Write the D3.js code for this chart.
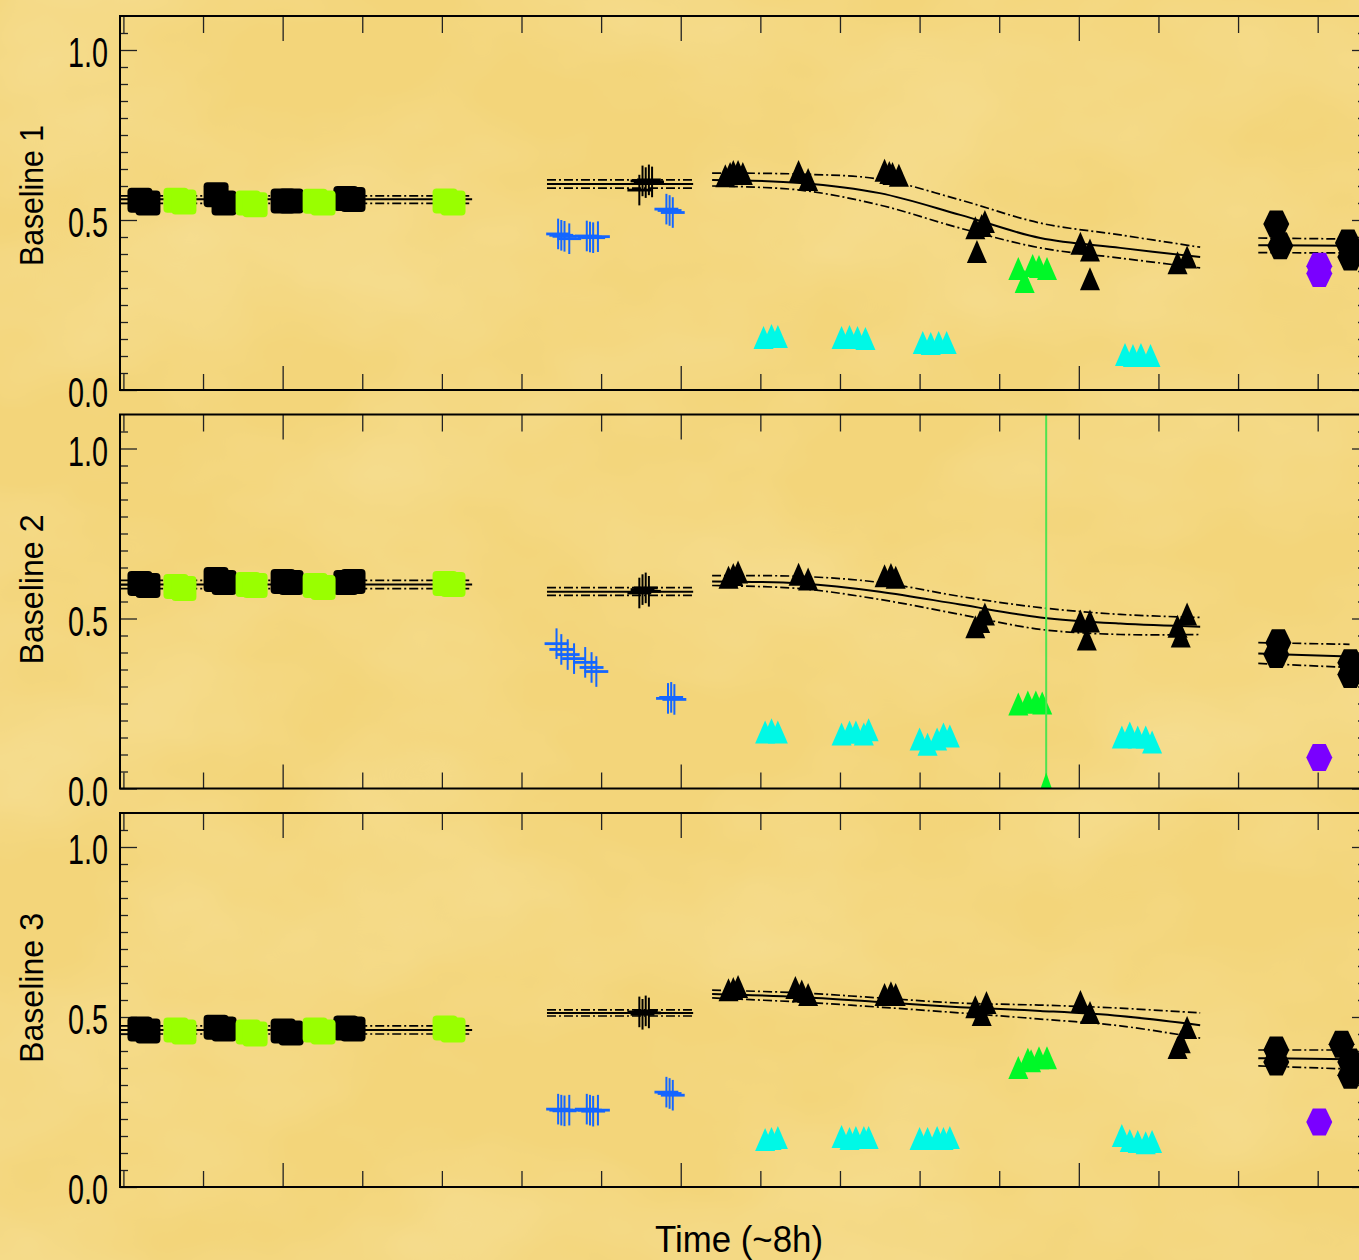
<!DOCTYPE html>
<html>
<head>
<meta charset="utf-8">
<script src="https://cdn.jsdelivr.net/npm/d3@7"></script>
<style>
  html, body { margin: 0; padding: 0; background: #f3d57a; }
  svg { display: block; }
</style>
</head>
<body>
<svg id="chart" width="1359" height="1260"></svg>
<script>
// ---------------- data (time in hours, values are normalised amplitudes) ----------------
const panelLabels = ["Baseline 1", "Baseline 2", "Baseline 3"];
const xAxisTitle = "Time (~8h)";
const xMinorTicks = [0, 0.5, 1.5, 2, 2.5, 3, 4, 4.5, 5, 5.5, 6.5, 7, 7.5];
const xMajorTicks = [1, 3.5, 6];
const yMajorTicks = [0, 0.5, 1.0];
const yTickLabels = ["0.0", "0.5", "1.0"];
const yMinorTicks = [0.05, 0.1, 0.15, 0.2, 0.25, 0.3, 0.35, 0.4, 0.45,
                     0.55, 0.6, 0.65, 0.7, 0.75, 0.8, 0.85, 0.9, 0.95, 1.05];

// first calibrator block: black and yellow-green squares
const squaresBlack = [
  [[0.104,0.558],[0.154,0.550],[0.582,0.574],[0.632,0.550],[1.003,0.556],[1.053,0.556],[1.397,0.563],[1.442,0.560]],
  [[0.104,0.603],[0.154,0.597],[0.582,0.615],[0.632,0.606],[1.003,0.609],[1.053,0.606],[1.397,0.606],[1.442,0.609]],
  [[0.104,0.465],[0.154,0.459],[0.582,0.470],[0.632,0.465],[1.003,0.459],[1.053,0.453],[1.397,0.468],[1.442,0.465]]
];
const squaresGreen = [
  [[0.330,0.558],[0.380,0.553],[0.783,0.550],[0.827,0.545],[1.204,0.555],[1.254,0.550],[2.020,0.556],[2.070,0.550]],
  [[0.330,0.594],[0.380,0.588],[0.783,0.600],[0.827,0.597],[1.204,0.597],[1.254,0.591],[2.020,0.603],[2.070,0.600]],
  [[0.330,0.462],[0.380,0.456],[0.783,0.456],[0.827,0.450],[1.204,0.462],[1.254,0.456],[2.020,0.468],[2.070,0.462]]
];
const fitAHours = [-0.02, 2.19];
const fitA = [ // [upper, transfer, lower]
  [0.571, 0.561, 0.549],
  [0.612, 0.600, 0.588],
  [0.474, 0.462, 0.450]
];

// second block: crosses
const crossesBlack = [
  [[3.24,0.588],[3.26,0.615],[3.28,0.610],[3.30,0.618],[3.32,0.612]],
  [[3.24,0.575],[3.26,0.585],[3.28,0.590],[3.30,0.580]],
  [[3.24,0.515],[3.26,0.508],[3.28,0.518],[3.30,0.512]]
];
const crossesBlue = [
  [[2.73,0.459],[2.75,0.455],[2.77,0.452],[2.80,0.445],[2.91,0.453],[2.93,0.450],[2.95,0.448],[2.98,0.451],[3.41,0.532],[3.43,0.528],[3.45,0.522]],
  [[2.72,0.426],[2.75,0.409],[2.79,0.394],[2.83,0.382],[2.90,0.371],[2.94,0.356],[2.97,0.344],[3.42,0.265],[3.44,0.268],[3.46,0.262]],
  [[2.73,0.229],[2.75,0.226],[2.77,0.224],[2.80,0.226],[2.91,0.229],[2.93,0.226],[2.95,0.223],[2.98,0.226],[3.41,0.279],[3.43,0.275],[3.45,0.270]]
];
const crossErrV = 0.045, crossErrH = 0.075;
const fitBHours = [2.66, 3.578];
const fitB = [
  [0.618, 0.606, 0.594],
  [0.591, 0.579, 0.568],
  [0.521, 0.512, 0.503]
];

// third block: triangles
const trianglesBlack = [
  [[3.78,0.629],[3.81,0.635],[3.83,0.641],[3.86,0.641],[3.89,0.635],[4.24,0.641],[4.30,0.618],[4.78,0.645],[4.81,0.638],[4.83,0.635],[4.87,0.630],
   [5.35,0.476],[5.39,0.482],[5.41,0.494],[5.36,0.406],[6.01,0.430],[6.07,0.410],[6.07,0.326],[6.62,0.373],[6.68,0.390]],
  [[3.80,0.620],[3.86,0.635],[3.83,0.628],[4.24,0.629],[4.30,0.615],[4.78,0.624],[4.85,0.620],[4.82,0.628],
   [5.35,0.474],[5.41,0.512],[5.38,0.490],[6.01,0.491],[6.07,0.491],[6.05,0.438],[6.62,0.476],[6.68,0.512],[6.64,0.447]],
  [[3.80,0.579],[3.86,0.588],[3.83,0.582],[4.22,0.585],[4.30,0.565],[4.26,0.575],[4.78,0.565],[4.85,0.565],[4.82,0.570],
   [5.35,0.529],[5.42,0.541],[5.39,0.506],[6.01,0.544],[6.07,0.512],[6.62,0.409],[6.68,0.468],[6.64,0.426]]
];
const trianglesCyan = [
  [[4.02,0.153],[4.07,0.159],[4.11,0.156],[4.51,0.153],[4.56,0.156],[4.61,0.153],[4.66,0.150],
   [5.02,0.138],[5.07,0.135],[5.12,0.138],[5.17,0.138],[6.29,0.103],[6.34,0.100],[6.39,0.103],[6.45,0.100]],
  [[4.03,0.165],[4.07,0.171],[4.11,0.165],[4.51,0.159],[4.56,0.165],[4.60,0.165],[4.65,0.159],[4.68,0.171],
   [5.00,0.144],[5.05,0.129],[5.11,0.144],[5.15,0.159],[5.19,0.153],[6.27,0.150],[6.32,0.162],[6.37,0.150],[6.42,0.150],[6.46,0.135]],
  [[4.03,0.138],[4.07,0.141],[4.11,0.144],[4.51,0.147],[4.56,0.141],[4.60,0.144],[4.65,0.144],[4.68,0.144],
   [5.00,0.141],[5.05,0.141],[5.11,0.144],[5.15,0.141],[5.19,0.144],[6.27,0.150],[6.32,0.135],[6.37,0.132],[6.42,0.129],[6.46,0.132]]
];
const trianglesGreen = [
  [[5.62,0.356],[5.71,0.365],[5.75,0.362],[5.80,0.356],[5.66,0.318]],
  [[5.62,0.247],[5.68,0.253],[5.73,0.253],[5.77,0.250]],
  [[5.62,0.350],[5.68,0.374],[5.75,0.379],[5.80,0.379],[5.70,0.370]]
];
// green point with an unbounded error bar: [hour, value, low, high]
const greenErrorBars = [[], [[5.795, 0.015, -0.1, 1.2]], []];
const fitCHours = [3.697, 4.25, 4.75, 5.255, 5.758, 6.26, 6.762];
const fitCMid = [
  [0.618, 0.609, 0.579, 0.515, 0.447, 0.418, 0.391],
  [0.609, 0.603, 0.579, 0.541, 0.503, 0.485, 0.476],
  [0.568, 0.559, 0.544, 0.529, 0.518, 0.503, 0.476]
];
const fitCUpper = [
  [0.638, 0.635, 0.620, 0.559, 0.491, 0.456, 0.420],
  [0.626, 0.624, 0.606, 0.565, 0.532, 0.512, 0.503],
  [0.579, 0.571, 0.556, 0.541, 0.535, 0.526, 0.512]
];
const fitCLower = [
  [0.600, 0.588, 0.544, 0.476, 0.418, 0.388, 0.359],
  [0.597, 0.588, 0.556, 0.512, 0.468, 0.453, 0.453],
  [0.556, 0.544, 0.529, 0.512, 0.494, 0.474, 0.438]
];

// last block: hexagons
const hexagonsBlack = [
  [[7.24,0.488],[7.265,0.424],[7.69,0.432],[7.705,0.391]],
  [[7.253,0.429],[7.24,0.394],[7.705,0.370],[7.705,0.335]],
  [[7.24,0.403],[7.24,0.368],[7.65,0.420],[7.705,0.368],[7.705,0.329]]
];
const hexagonsPurple = [
  [[7.51,0.364],[7.51,0.343]],
  [[7.51,0.091]],
  [[7.51,0.191]]
];
const fitDHours = [7.127, 7.70];
const fitDUpper = [[0.447, 0.444], [0.429, 0.424], [0.403, 0.403]];
const fitDMid   = [[0.426, 0.424], [0.397, 0.388], [0.379, 0.376]];
const fitDLower = [[0.404, 0.403], [0.368, 0.356], [0.356, 0.347]];

// ---------------- layout & style ----------------
const W = 1359, H = 1260;
const plotLeft = 120, plotRight = 1368;
const panelTop0 = 16, panelStep = 398.5, panelH = 374;
const colors = {
  black: "#000000", lime: "#99ff00", blue: "#1466ff", cyan: "#00f8e6",
  green: "#00f828", greenBar: "#4fe34f", purple: "#7a00ff"
};
const fontFamily = "'Liberation Sans', Arial, sans-serif";
const dashDot = "9,3,2,3";

const svg = d3.select("#chart");
const defs = svg.append("defs");

// faint parchment texture
const paper = defs.append("filter").attr("id", "paper")
  .attr("x", 0).attr("y", 0).attr("width", "100%").attr("height", "100%");
paper.append("feTurbulence").attr("type", "fractalNoise")
  .attr("baseFrequency", "0.004 0.006").attr("numOctaves", 4).attr("seed", 11).attr("result", "n");
paper.append("feColorMatrix").attr("in", "n").attr("type", "matrix")
  .attr("values", "0 0 0 0 0.98  0 0 0 0 0.89  0 0 0 0 0.58  0.5 0 0 0 -0.17");

svg.append("rect").attr("width", W).attr("height", H).attr("fill", "#f3d57a");
svg.append("rect").attr("width", W).attr("height", H).attr("filter", "url(#paper)");

const x = d3.scaleLinear().domain([-0.0214, 7.816]).range([plotLeft, plotRight]);

// marker shapes (pixel outlines around a data point)
const shapeTriangle = "M0,-12L10,11L-10,11Z";
const shapeHexagon = "M-13,0L-6.5,-13.5L6.5,-13.5L13,0L6.5,13.5L-6.5,13.5Z";
const squareSize = 25;

panelLabels.forEach((label, i) => {
  const top = panelTop0 + i * panelStep;
  const bottom = top + panelH;
  const y = d3.scaleLinear().domain([0, 1.1]).range([bottom, top]);
  const g = svg.append("g");

  const clipId = "clip" + i;
  defs.append("clipPath").attr("id", clipId)
    .append("rect").attr("x", plotLeft).attr("y", top)
    .attr("width", plotRight - plotLeft).attr("height", panelH);

  // ticks
  const tickG = g.append("g").attr("stroke-width", 1.3);
  const styleAxis = sel => {
    sel.select(".domain").remove();
    sel.selectAll(".tick line").attr("stroke", "#222");
  };
  tickG.append("g").attr("transform", `translate(0,${bottom})`)
    .call(d3.axisBottom(x).tickValues(xMinorTicks).tickSize(-16).tickFormat("")).call(styleAxis);
  tickG.append("g").attr("transform", `translate(0,${bottom})`)
    .call(d3.axisBottom(x).tickValues(xMajorTicks).tickSize(-24).tickFormat("")).call(styleAxis);
  tickG.append("g").attr("transform", `translate(0,${top})`)
    .call(d3.axisTop(x).tickValues(xMinorTicks).tickSize(-17).tickFormat("")).call(styleAxis);
  tickG.append("g").attr("transform", `translate(0,${top})`)
    .call(d3.axisTop(x).tickValues(xMajorTicks).tickSize(-25).tickFormat("")).call(styleAxis);
  tickG.append("g").attr("transform", `translate(${plotLeft},0)`)
    .call(d3.axisLeft(y).tickValues(yMinorTicks).tickSize(-8).tickFormat("")).call(styleAxis);
  tickG.append("g").attr("transform", `translate(${plotRight},0)`)
    .call(d3.axisRight(y).tickValues(yMinorTicks).tickSize(-10).tickFormat("")).call(styleAxis);
  tickG.append("g").attr("transform", `translate(${plotRight},0)`)
    .call(d3.axisRight(y).tickValues(yMajorTicks).tickSize(-16).tickFormat("")).call(styleAxis);
  const leftMajor = tickG.append("g").attr("transform", `translate(${plotLeft},0)`)
    .call(d3.axisLeft(y).tickValues(yMajorTicks).tickSize(-17).tickPadding(12)
      .tickFormat((d, k) => yTickLabels[k]))
    .call(styleAxis);
  leftMajor.selectAll(".tick text")
    .attr("fill", "#000").attr("font-family", fontFamily).attr("font-size", 42)
    .attr("dy", "0.4em").attr("textLength", 40).attr("lengthAdjust", "spacingAndGlyphs");

  // y axis title
  svg.append("text")
    .attr("transform", `translate(43,${bottom - 124}) rotate(-90)`)
    .attr("font-family", fontFamily).attr("font-size", 34)
    .attr("textLength", label.endsWith("1") ? 141 : 150).attr("lengthAdjust", "spacingAndGlyphs")
    .text(label);

  const plot = g.append("g").attr("clip-path", `url(#${clipId})`);

  // model curves: solid transfer function with dash-dot error envelope
  const line = d3.line().x(d => x(d[0])).y(d => y(d[1]));
  const curve = d3.line().x(d => x(d[0])).y(d => y(d[1])).curve(d3.curveCatmullRom.alpha(0.5));
  const drawFit = (hours, vals, gen, dashed) => {
    plot.append("path")
      .attr("d", gen(hours.map((h, k) => [h, vals[k]])))
      .attr("fill", "none").attr("stroke", "#000")
      .attr("stroke-width", dashed ? 1.7 : 2)
      .attr("stroke-dasharray", dashed ? dashDot : null);
  };
  fitA[i].forEach((v, k) => drawFit(fitAHours, [v, v], line, k !== 1));
  fitB[i].forEach((v, k) => drawFit(fitBHours, [v, v], line, k !== 1));
  drawFit(fitCHours, fitCUpper[i], curve, true);
  drawFit(fitCHours, fitCMid[i], curve, false);
  drawFit(fitCHours, fitCLower[i], curve, true);
  drawFit(fitDHours, fitDUpper[i], line, true);
  drawFit(fitDHours, fitDMid[i], line, false);
  drawFit(fitDHours, fitDLower[i], line, true);

  // crosses with vertical error bars
  const drawCrosses = (pts, color) => {
    const cg = plot.append("g").attr("stroke", color);
    cg.selectAll("line.v").data(pts).join("line").attr("class", "v")
      .attr("x1", d => x(d[0])).attr("x2", d => x(d[0]))
      .attr("y1", d => y(d[1] - crossErrV)).attr("y2", d => y(d[1] + crossErrV))
      .attr("stroke-width", 2);
    cg.selectAll("line.h").data(pts).join("line").attr("class", "h")
      .attr("x1", d => x(d[0] - crossErrH)).attr("x2", d => x(d[0] + crossErrH))
      .attr("y1", d => y(d[1])).attr("y2", d => y(d[1]))
      .attr("stroke-width", 2.8);
  };
  drawCrosses(crossesBlack[i], colors.black);
  drawCrosses(crossesBlue[i], colors.blue);

  // squares
  const drawSquares = (pts, color) => {
    plot.append("g").selectAll("rect").data(pts).join("rect")
      .attr("x", d => x(d[0]) - squareSize / 2).attr("y", d => y(d[1]) - squareSize / 2)
      .attr("width", squareSize).attr("height", squareSize).attr("rx", 4)
      .attr("fill", color);
  };
  drawSquares(squaresBlack[i], colors.black);
  drawSquares(squaresGreen[i], colors.lime);

  // generic path markers
  const drawShapes = (pts, shape, color) => {
    plot.append("g").selectAll("path").data(pts).join("path")
      .attr("transform", d => `translate(${x(d[0])},${y(d[1])})`)
      .attr("d", shape).attr("fill", color);
  };
  drawShapes(trianglesCyan[i], shapeTriangle, colors.cyan);
  drawShapes(trianglesGreen[i], shapeTriangle, colors.green);
  drawShapes(trianglesBlack[i], shapeTriangle, colors.black);
  drawShapes(hexagonsPurple[i], shapeHexagon, colors.purple);
  drawShapes(hexagonsBlack[i], shapeHexagon, colors.black);

  // green point whose error bar spans the whole panel
  plot.append("g").selectAll("line").data(greenErrorBars[i]).join("line")
    .attr("x1", d => x(d[0])).attr("x2", d => x(d[0]))
    .attr("y1", d => y(d[2])).attr("y2", d => y(d[3]))
    .attr("stroke", colors.greenBar).attr("stroke-width", 2);
  drawShapes(greenErrorBars[i], "M0,-11L7,9L-7,9Z", colors.green);

  // frame
  g.append("rect").attr("x", plotLeft).attr("y", top)
    .attr("width", plotRight - plotLeft).attr("height", panelH)
    .attr("fill", "none").attr("stroke", "#000").attr("stroke-width", 2);
});

// x axis title
svg.append("text")
  .attr("x", 655).attr("y", 1252)
  .attr("font-family", fontFamily).attr("font-size", 36)
  .attr("textLength", 168).attr("lengthAdjust", "spacingAndGlyphs")
  .text(xAxisTitle);
</script>
</body>
</html>
